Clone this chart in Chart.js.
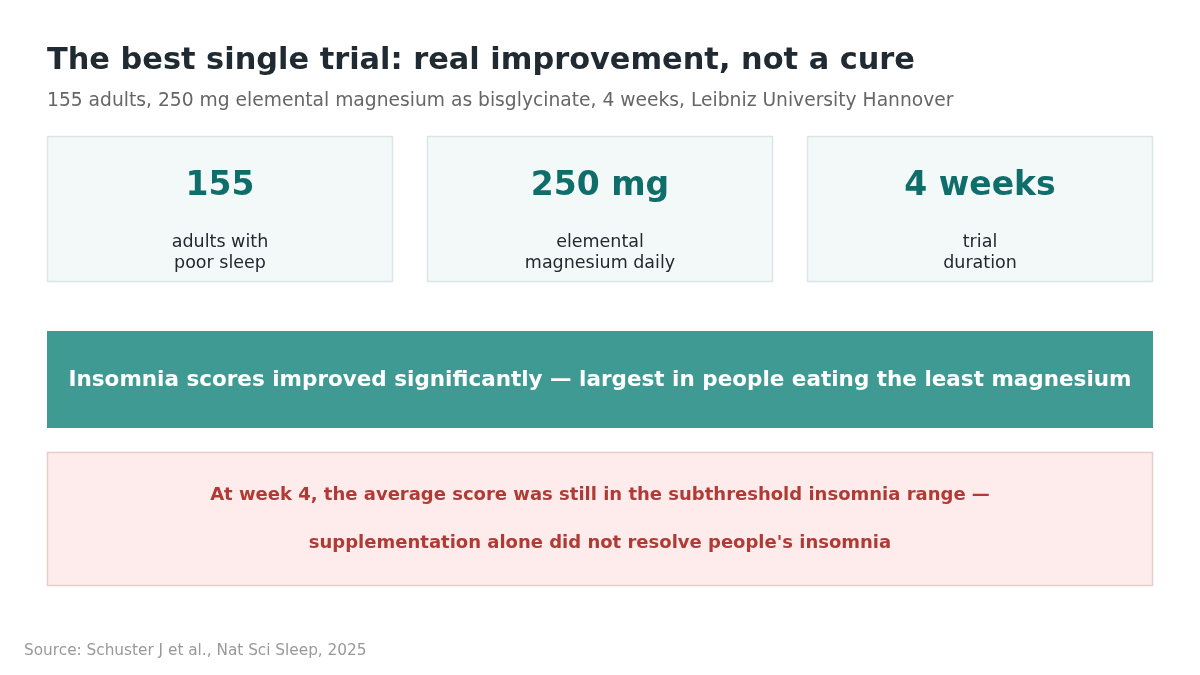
<!DOCTYPE html>
<html>
<head>
<meta charset="utf-8">
<script src="https://cdn.jsdelivr.net/npm/chart.js@4.4.1/dist/chart.umd.min.js"></script>
<style>
  html, body { margin: 0; padding: 0; background: #ffffff; }
  #wrap { width: 1200px; height: 675px; position: relative; }
</style>
</head>
<body>
<div id="wrap"><canvas id="myChart" width="1200" height="675"></canvas></div>
<script>
// texts
var titleText = "The best single trial: real improvement, not a cure";
var subtitleText = "155 adults, 250 mg elemental magnesium as bisglycinate, 4 weeks, Leibniz University Hannover";
var cardValues = ["155", "250 mg", "4 weeks"];
var cardLabels = [["adults with", "poor sleep"], ["elemental", "magnesium daily"], ["trial", "duration"]];
var bannerText = "Insomnia scores improved significantly \u2014 largest in people eating the least magnesium";
var calloutLines = ["At week 4, the average score was still in the subthreshold insomnia range \u2014",
                    "supplementation alone did not resolve people's insomnia"];
var sourceText = "Source: Schuster J et al., Nat Sci Sleep, 2025";

var FONT = "'DejaVu Sans', sans-serif";

var panelPlugin = {
    id: "panels",
    afterDraw: function (chart) {
        var ctx = chart.ctx;
        ctx.save();
        ctx.textBaseline = "alphabetic";

        // title + subtitle
        ctx.fillStyle = "#1f2a33";
        ctx.font = "bold 30.4px " + FONT;
        ctx.textAlign = "left";
        ctx.fillText(titleText, 47, 69);
        ctx.fillStyle = "#666666";
        ctx.font = "18.7px " + FONT;
        ctx.fillText(subtitleText, 47, 106);

        // stat cards
        var cardX = [47, 427, 807], cardW = 346, cardY = 136, cardH = 146;
        for (var i = 0; i < cardValues.length; i++) {
            ctx.fillStyle = "#f3f8f9";
            ctx.fillRect(cardX[i], cardY, cardW, cardH);
            ctx.strokeStyle = "#dde4e7";
            ctx.lineWidth = 1.5;
            ctx.strokeRect(cardX[i] + 0.5, cardY + 0.5, cardW - 1, cardH - 1);

            var cx = cardX[i] + cardW / 2;
            ctx.textAlign = "center";
            ctx.fillStyle = "#0f6e6a";
            ctx.font = "bold 33px " + FONT;
            ctx.fillText(cardValues[i], cx, 195);
            ctx.fillStyle = "#222a30";
            ctx.font = "17.5px " + FONT;
            cardLabels[i].forEach(function (line, k) {
                ctx.fillText(line, cx, 247 + k * 21);
            });
        }

        // banner
        ctx.fillStyle = "#3f9a93";
        ctx.fillRect(47, 331, 1106, 97);
        ctx.fillStyle = "#ffffff";
        ctx.font = "bold 21.5px " + FONT;
        ctx.textAlign = "center";
        ctx.fillText(bannerText, 600, 386);

        // callout
        ctx.fillStyle = "#fdeceb";
        ctx.fillRect(47, 452, 1106, 134);
        ctx.strokeStyle = "#e8cccc";
        ctx.lineWidth = 1.5;
        ctx.strokeRect(47.5, 452.5, 1105, 133);
        ctx.fillStyle = "#b03b35";
        ctx.font = "bold 18px " + FONT;
        calloutLines.forEach(function (line, k) {
            ctx.fillText(line, 600, 500 + k * 48);
        });

        // source
        ctx.textAlign = "left";
        ctx.fillStyle = "#999999";
        ctx.font = "15.3px " + FONT;
        ctx.fillText(sourceText, 24, 655);

        ctx.restore();
    }
};

var ctx = document.getElementById("myChart").getContext("2d");
var chart = new Chart(ctx, {
    type: "bar",
    data: { labels: [], datasets: [] },
    options: {
        responsive: false,
        animation: false,
        plugins: { legend: { display: false }, tooltip: { enabled: false } },
        scales: { x: { display: false }, y: { display: false } }
    },
    plugins: [panelPlugin]
});
</script>
</body>
</html>
